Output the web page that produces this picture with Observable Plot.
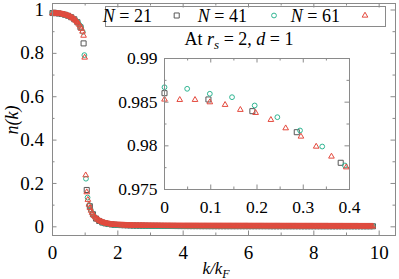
<!DOCTYPE html>
<html>
<head>
<meta charset="utf-8">
<script src="https://cdn.jsdelivr.net/npm/d3@7"></script>
<script src="https://cdn.jsdelivr.net/npm/@observablehq/plot@0.6"></script>
<style>
  html,body{margin:0;padding:0;background:#fff;}
  #chart{position:relative;width:399px;height:279px;overflow:hidden;font-family:"Liberation Serif",serif;}
  #chart svg{position:absolute;}
  #chart text{font-family:"Liberation Serif",serif;}
</style>
</head>
<body>
<div id="chart"></div>
<script>
// ---------- data ----------
const seriesLabels = ["21", "41", "61"];

const k21 = [0,0.095,0.190,0.286,0.381,0.476,0.571,0.667,0.762,0.857,
0.952,1.048,1.143,1.238,1.333,1.429,1.524,1.619,1.714,1.810,
1.905,2.000,2.095,2.190,2.286,2.381,2.476,2.571,2.667,2.762,
2.857,2.952,3.048,3.143,3.238,3.333,3.429,3.524,3.619,3.714,
3.810,3.905,4.000,4.095,4.190,4.286,4.381,4.476,4.571,4.667,
4.762,4.857,4.952,5.048,5.143,5.238,5.333,5.429,5.524,5.619,
5.714,5.810,5.905,6.000,6.095,6.190,6.286,6.381,6.476,6.571,
6.667,6.762,6.857,6.952,7.048,7.143,7.238,7.333,7.429,7.524,
7.619,7.714,7.810,7.905,8.000,8.095,8.190,8.286,8.381,8.476,
8.571,8.667,8.762,8.857,8.952,9.048,9.143,9.238,9.333,9.429,
9.524,9.619,9.714,9.810];
const n21 = [0.98603,0.98531,0.98397,0.98156,0.97806,0.9735,0.9667,0.9572,0.9435,0.920,
0.846,0.170,0.095,0.058,0.038,0.027,0.020,0.016,0.013,0.011,
0.0095,0.0085,0.008,0.0075,0.007,0.0065,0.006,0.0058,0.0055,0.0053,
0.005,0.0048,0.0046,0.0045,0.0043,0.0042,0.0041,0.004,0.0039,0.0038,
0.0037,0.0036,0.0035,0.0035,0.0034,0.0034,0.0033,0.0033,0.0032,0.0032,
0.0031,0.0031,0.003,0.003,0.003,0.003,0.003,0.003,0.003,0.003,
0.003,0.003,0.003,0.003,0.003,0.003,0.003,0.003,0.003,0.003,
0.0028,0.0028,0.0028,0.0028,0.0028,0.0028,0.0028,0.0028,0.0028,0.0028,
0.0027,0.0027,0.0027,0.0027,0.0027,0.0027,0.0027,0.0027,0.0027,0.0027,
0.0026,0.0026,0.0026,0.0026,0.0026,0.0026,0.0026,0.0026,0.0026,0.0026,
0.0025,0.0025,0.0025,0.0025];

const k41 = [0,0.049,0.098,0.146,0.195,0.244,0.293,0.341,0.390,0.439,
0.488,0.537,0.585,0.634,0.683,0.732,0.780,0.829,0.878,0.927,
0.976,1.024,1.073,1.122,1.171,1.220,1.268,1.317,1.366,1.415,
1.463,1.512,1.561,1.610,1.659,1.707,1.756,1.805,1.854,1.902,
1.951,
2.000,2.049,2.098,2.146,2.195,2.244,2.293,2.341,2.390,2.439,
2.488,2.537,2.585,2.634,2.683,2.732,2.780,2.829,2.878,2.927,
2.976,3.024,3.073,3.122,3.171,3.220,3.268,3.317,3.366,3.415,
3.463,3.512,3.561,3.610,3.659,3.707,3.756,3.805,3.854,3.902,
3.951,
4.000,4.049,4.098,4.146,4.195,4.244,4.293,4.341,4.390,4.439,
4.488,4.537,4.585,4.634,4.683,4.732,4.780,4.829,4.878,4.927,
4.976,5.024,5.073,5.122,5.171,5.220,5.268,5.317,5.366,5.415,
5.463,5.512,5.561,5.610,5.659,5.707,5.756,5.805,5.854,5.902,
5.951,
6.000,6.049,6.098,6.146,6.195,6.244,6.293,6.341,6.390,6.439,
6.488,6.537,6.585,6.634,6.683,6.732,6.780,6.829,6.878,6.927,
6.976,7.024,7.073,7.122,7.171,7.220,7.268,7.317,7.366,7.415,
7.463,7.512,7.561,7.610,7.659,7.707,7.756,7.805,7.854,7.902,
7.951,
8.000,8.049,8.098,8.146,8.195,8.244,8.293,8.341,8.390,8.439,
8.488,8.537,8.585,8.634,8.683,8.732,8.780,8.829,8.878,8.927,
8.976,9.024,9.073,9.122,9.171,9.220,9.268,9.317,9.366,9.415,
9.463,9.512,9.561,9.610,9.659,9.707,9.756,9.805];
const n41 = [0.98671,0.98653,0.98596,0.98557,0.98462,0.98328,0.98176,0.97992,0.97775,0.9754,
0.9728,0.9697,0.9660,0.9614,0.9558,0.9490,0.9410,0.9310,0.9180,0.8990,
0.792,0.222,0.135,0.100,0.078,0.062,0.050,0.041,0.034,0.028,
0.024,0.020,0.018,0.016,0.014,0.013,0.012,0.011,0.010,0.0095,
0.009,
0.0085,0.008,0.008,0.0075,0.0075,0.007,0.007,0.0067,0.0064,0.0062,
0.006,0.0058,0.0056,0.0054,0.0052,0.005,0.005,0.0048,0.0048,0.0046,
0.0046,0.0045,0.0045,0.0044,0.0044,0.0043,0.0043,0.0042,0.0042,0.0041,
0.0041,0.004,0.004,0.0039,0.0039,0.0038,0.0038,0.0037,0.0037,0.0036,
0.0036,
0.0035,0.0035,0.0035,0.0035,0.0035,0.0035,0.0035,0.0035,0.0035,0.0035,
0.0034,0.0034,0.0034,0.0034,0.0034,0.0034,0.0034,0.0034,0.0034,0.0034,
0.0033,0.0033,0.0033,0.0033,0.0033,0.0033,0.0033,0.0033,0.0033,0.0033,
0.0032,0.0032,0.0032,0.0032,0.0032,0.0032,0.0032,0.0032,0.0032,0.0032,
0.0032,
0.003,0.003,0.003,0.003,0.003,0.003,0.003,0.003,0.003,0.003,
0.003,0.003,0.003,0.003,0.003,0.003,0.003,0.003,0.003,0.003,
0.0029,0.0029,0.0029,0.0029,0.0029,0.0029,0.0029,0.0029,0.0029,0.0029,
0.0029,0.0029,0.0029,0.0029,0.0029,0.0029,0.0029,0.0029,0.0029,0.0029,
0.0029,
0.0028,0.0028,0.0028,0.0028,0.0028,0.0028,0.0028,0.0028,0.0028,0.0028,
0.0028,0.0028,0.0028,0.0028,0.0028,0.0028,0.0028,0.0028,0.0028,
0.0027,0.0027,0.0027,0.0027,0.0027,0.0027,0.0027,0.0027,0.0027,0.0027,
0.0027,0.0027,0.0027,0.0027,0.0027,0.0027,0.0027,0.0027,0.0027];

const k61 = [0,0.033,0.066,0.098,0.131,0.164,0.197,0.230,0.262,0.295,
0.328,0.361,0.393,0.426,0.459,0.492,0.525,0.557,0.590,0.623,
0.656,0.689,0.721,0.754,0.787,0.820,0.852,0.885,0.918,0.951,
0.984,1.016,1.049,1.082,1.115,1.148,1.180,1.213,1.246,1.279,
1.311,1.344,1.377,1.410,1.443,1.475,1.508,1.541,1.574,1.607,
1.639,1.672,1.705,1.738,1.770,1.803,1.836,1.869,1.902,1.934,
1.967,
2.000,2.033,2.066,2.098,2.131,2.164,2.197,2.230,2.262,2.295,
2.328,2.361,2.393,2.426,2.459,2.492,2.525,2.557,2.590,2.623,
2.656,2.689,2.721,2.754,2.787,2.820,2.852,2.885,2.918,2.951,
2.984,3.016,3.049,3.082,3.115,3.148,3.180,3.213,3.246,3.279,
3.311,3.344,3.377,3.410,3.443,3.475,3.508,3.541,3.574,3.607,
3.639,3.672,3.705,3.738,3.770,3.803,3.836,3.869,3.902,3.934,
3.967,
4.000,4.033,4.066,4.098,4.131,4.164,4.197,4.230,4.262,4.295,
4.328,4.361,4.393,4.426,4.459,4.492,4.525,4.557,4.590,4.623,
4.656,4.689,4.721,4.754,4.787,4.820,4.852,4.885,4.918,4.951,
4.984,5.016,5.049,5.082,5.115,5.148,5.180,5.213,5.246,5.279,
5.311,5.344,5.377,5.410,5.443,5.475,5.508,5.541,5.574,5.607,
5.639,5.672,5.705,5.738,5.770,5.803,5.836,5.869,5.902,5.934,
5.967,
6.000,6.033,6.066,6.098,6.131,6.164,6.197,6.230,6.262,6.295,
6.328,6.361,6.393,6.426,6.459,6.492,6.525,6.557,6.590,6.623,
6.656,6.689,6.721,6.754,6.787,6.820,6.852,6.885,6.918,6.951,
6.984,7.016,7.049,7.082,7.115,7.148,7.180,7.213,7.246,7.279,
7.311,7.344,7.377,7.410,7.443,7.475,7.508,7.541,7.574,7.607,
7.639,7.672,7.705,7.738,7.770,7.803,7.836,7.869,7.902,7.934,
7.967,
8.000,8.033,8.066,8.098,8.131,8.164,8.197,8.230,8.262,8.295,
8.328,8.361,8.393,8.426,8.459,8.492,8.525,8.557,8.590,8.623,
8.656,8.689,8.721,8.754,8.787,8.820,8.852,8.885,8.918,8.951,
8.984,9.016,9.049,9.082,9.115,9.148,9.180,9.213,9.246,9.279,
9.311,9.344,9.377,9.410,9.443,9.475,9.508,9.541,9.574,9.607,
9.639,9.672,9.705,9.738,9.770,9.803];
const n61 = [0.98531,0.98527,0.98527,0.98500,0.98470,0.98413,0.98378,0.98298,0.98202,0.98107,
0.97992,0.97878,0.97755,0.9762,0.9746,0.9728,0.9707,0.9683,0.9656,0.9625,
0.9590,0.9550,0.9504,0.9452,0.9392,0.9322,0.9240,0.9140,0.9010,0.8820,
0.781,0.238,0.160,0.125,0.103,0.087,0.075,0.065,0.057,0.050,
0.044,0.039,0.035,0.031,0.028,0.025,0.023,0.021,0.019,0.017,
0.016,0.015,0.014,0.013,0.012,0.0115,0.011,0.0105,0.010,0.0095,
0.009,
0.0088,0.0086,0.0084,0.0082,0.008,0.0078,0.0076,0.0074,0.0072,0.007,
0.0068,0.0067,0.0066,0.0064,0.0063,0.0062,0.006,0.0059,0.0058,0.0057,
0.0056,0.0055,0.0054,0.0053,0.0052,0.0051,0.005,0.005,0.0049,0.0049,
0.0048,0.0048,0.0047,0.0047,0.0046,0.0046,0.0045,0.0045,0.0044,0.0044,
0.0043,0.0043,0.0043,0.0043,0.0043,0.0042,0.0042,0.0042,0.0042,0.0042,
0.0041,0.0041,0.0041,0.0041,0.0041,0.004,0.004,0.004,0.004,0.004,
0.004,
0.0039,0.0039,0.0039,0.0039,0.0039,0.0039,0.0039,0.0039,0.0039,0.0039,
0.0039,0.0039,0.0039,0.0039,0.0039,
0.0038,0.0038,0.0038,0.0038,0.0038,0.0038,0.0038,0.0038,0.0038,0.0038,
0.0038,0.0038,0.0038,0.0038,0.0038,
0.0037,0.0037,0.0037,0.0037,0.0037,0.0037,0.0037,0.0037,0.0037,0.0037,
0.0037,0.0037,0.0037,0.0037,0.0037,
0.0036,0.0036,0.0036,0.0036,0.0036,0.0036,0.0036,0.0036,0.0036,0.0036,
0.0036,0.0036,0.0036,0.0036,0.0036,0.0036,
0.0035,0.0035,0.0035,0.0035,0.0035,0.0035,0.0035,0.0035,0.0035,0.0035,
0.0035,0.0035,0.0035,0.0035,0.0035,
0.0034,0.0034,0.0034,0.0034,0.0034,0.0034,0.0034,0.0034,0.0034,0.0034,
0.0034,0.0034,0.0034,0.0034,0.0034,
0.0033,0.0033,0.0033,0.0033,0.0033,0.0033,0.0033,0.0033,0.0033,0.0033,
0.0033,0.0033,0.0033,0.0033,0.0033,
0.0032,0.0032,0.0032,0.0032,0.0032,0.0032,0.0032,0.0032,0.0032,0.0032,
0.0032,0.0032,0.0032,0.0032,0.0032,0.0032,
0.0031,0.0031,0.0031,0.0031,0.0031,0.0031,0.0031,0.0031,0.0031,0.0031,
0.0031,0.0031,0.0031,0.0031,
0.003,0.003,0.003,0.003,0.003,0.003,0.003,0.003,0.003,0.003,
0.003,0.003,0.003,0.003,
0.0029,0.0029,0.0029,0.0029,0.0029,0.0029,0.0029,0.0029,0.0029,0.0029,
0.0029,0.0029,0.0029,0.0029,
0.0028,0.0028,0.0028,0.0028,0.0028,0.0028,0.0028,0.0028,0.0028,0.0028,
0.0028,0.0028,0.0028,0.0028];

// tick values
const xMajor = [0, 2, 4, 6, 8, 10];
const xMinor = [1, 3, 5, 7, 9];
const yMajor = [0, 0.2, 0.4, 0.6, 0.8, 1];
const yMinor = [0.1, 0.3, 0.5, 0.7, 0.9];
const insetXMajor = [0, 0.1, 0.2, 0.3, 0.4];
const insetXMinor = [0.05, 0.15, 0.25, 0.35];
const insetYMajor = [0.975, 0.98, 0.985, 0.99];
const insetYMinor = [0.9775, 0.9825, 0.9875];

// ---------- drawing ----------
const FONT = "Liberation Serif, serif";
const frameColor = "#8a8a8a";
const styles = [
  {symbol: "square",   d3sym: d3.symbolSquare,   r: 2.85, color: "#575757"},
  {symbol: "circle",   d3sym: d3.symbolCircle,   r: 2.4,  color: "#2fb592"},
  {symbol: "triangle", d3sym: d3.symbolTriangle, r: 2.1,  color: "#e4493d"}
];
const series = [[k21, n21], [k41, n41], [k61, n61]];
series.forEach(([k, n], i) => {
  if (k.length !== n.length) throw new Error(`series ${seriesLabels[i]}: ${k.length} k vs ${n.length} n`);
});
const rows = series.map(([k, n], i) => k.map((x, j) => ({k: x, n: n[j], N: seriesLabels[i]})));

function frameTicks(xMaj, xMin, yMaj, yMin, fw, fh, maj, mn) {
  const s = {stroke: frameColor, strokeWidth: 1};
  return [
    Plot.ruleX(xMaj, {...s, insetTop: fh - maj}),
    Plot.ruleX(xMaj, {...s, insetBottom: fh - maj}),
    Plot.ruleX(xMin, {...s, insetTop: fh - mn}),
    Plot.ruleX(xMin, {...s, insetBottom: fh - mn}),
    Plot.ruleY(yMaj, {...s, insetRight: fw - maj}),
    Plot.ruleY(yMaj, {...s, insetLeft: fw - maj}),
    Plot.ruleY(yMin, {...s, insetRight: fw - mn}),
    Plot.ruleY(yMin, {...s, insetLeft: fw - mn})
  ];
}
function dots(list) {
  return list.map((r, i) => Plot.dot(r, {
    x: "k", y: "n", symbol: styles[i].symbol, r: styles[i].r,
    stroke: styles[i].color, fill: "none", strokeWidth: 1
  }));
}

const W = 399, H = 279;
const mM = {l: 52, r: 4, t: 3, b: 44};
const fw = W - mM.l - mM.r, fh = H - mM.t - mM.b;

const main = Plot.plot({
  width: W, height: H,
  marginLeft: mM.l, marginRight: mM.r, marginTop: mM.t, marginBottom: mM.b,
  style: {fontFamily: FONT, fontSize: "19px", color: "#000", background: "transparent", overflow: "visible"},
  x: {domain: [0, 10.5]},
  y: {domain: [-0.04, 1.03]},
  marks: [
    ...frameTicks(xMajor, xMinor, yMajor, yMinor, fw, fh, 4.5, 2.5),
    Plot.axisX(xMajor, {tickSize: 0, tickPadding: 10, tickFormat: d => String(d), label: null, fontSize: 19}),
    Plot.axisY(yMajor, {tickSize: 0, tickPadding: 8.5, tickFormat: d => String(d), label: null, fontSize: 19}),
    ...dots(rows),
    Plot.frame({stroke: frameColor})
  ]
});
main.style.left = "0px"; main.style.top = "0px";

const mI = {l: 52, r: 14, t: 12, b: 30};
const iw = 185, ih = 131;
const insetRows = rows.map(r => r.filter(d => d.k <= 0.4001));
const inset = Plot.plot({
  width: iw + mI.l + mI.r, height: ih + mI.t + mI.b,
  marginLeft: mI.l, marginRight: mI.r, marginTop: mI.t, marginBottom: mI.b,
  style: {fontFamily: FONT, fontSize: "17.5px", color: "#000", background: "transparent", overflow: "visible"},
  x: {domain: [0, 0.4]},
  y: {domain: [0.975, 0.99]},
  marks: [
    Plot.frame({fill: "white"}),
    ...frameTicks(insetXMajor, insetXMinor, insetYMajor, insetYMinor, iw, ih, 4.5, 2.5),
    Plot.axisX(insetXMajor, {tickSize: 0, tickPadding: 11, tickFormat: d => String(d), label: null, fontSize: 17.5}),
    Plot.axisY(insetYMajor, {tickSize: 0, tickPadding: 7, tickFormat: d => String(d), label: null, fontSize: 17.5}),
    ...dots(insetRows),
    Plot.frame({stroke: frameColor})
  ]
});
inset.style.left = (164 - mI.l) + "px";
inset.style.top = (58 - mI.t) + "px";

// overlay: legend, annotation, axis titles
const ov = d3.create("svg").attr("width", W).attr("height", H)
  .attr("font-family", FONT).attr("fill", "#000")
  .style("left", "0px").style("top", "0px");
ov.append("rect").attr("x", 105.5).attr("y", 6.5).attr("width", 280).attr("height", 20)
  .attr("fill", "none").attr("stroke", frameColor);
const legTextX = [152, 247, 340], legSymX = [176.7, 274, 365];
seriesLabels.forEach((lab, i) => {
  const t = ov.append("text").attr("x", legTextX[i]).attr("y", 21.5)
    .attr("text-anchor", "end").attr("font-size", 18);
  t.append("tspan").attr("font-style", "italic").text("N");
  t.append("tspan").text(" = " + lab);
  ov.append("path")
    .attr("d", d3.symbol(styles[i].d3sym, Math.PI * styles[i].r ** 2)())
    .attr("transform", `translate(${legSymX[i]},15.5)`)
    .attr("fill", "none").attr("stroke", styles[i].color).attr("stroke-width", 1);
});
const a = ov.append("text").attr("x", 239).attr("y", 45).attr("text-anchor", "middle").attr("font-size", 18);
a.append("tspan").text("At ");
a.append("tspan").attr("font-style", "italic").text("r");
a.append("tspan").attr("font-style", "italic").attr("font-size", 13).attr("dy", 4).text("s");
a.append("tspan").attr("dy", -4).text(" = 2, ");
a.append("tspan").attr("font-style", "italic").text("d");
a.append("tspan").text(" = 1");

const xl = ov.append("text").attr("x", 216).attr("y", 274).attr("text-anchor", "middle")
  .attr("font-size", 17).attr("font-style", "italic");
xl.append("tspan").text("k/k");
xl.append("tspan").attr("font-size", 12).attr("dy", 3.5).text("F");
ov.append("text").attr("transform", "translate(18,120) rotate(-90)").attr("text-anchor", "middle")
  .attr("font-size", 18).attr("font-style", "italic").text("n(k)");

const chart = document.getElementById("chart");
chart.append(main, inset, ov.node());
</script>
</body>
</html>
